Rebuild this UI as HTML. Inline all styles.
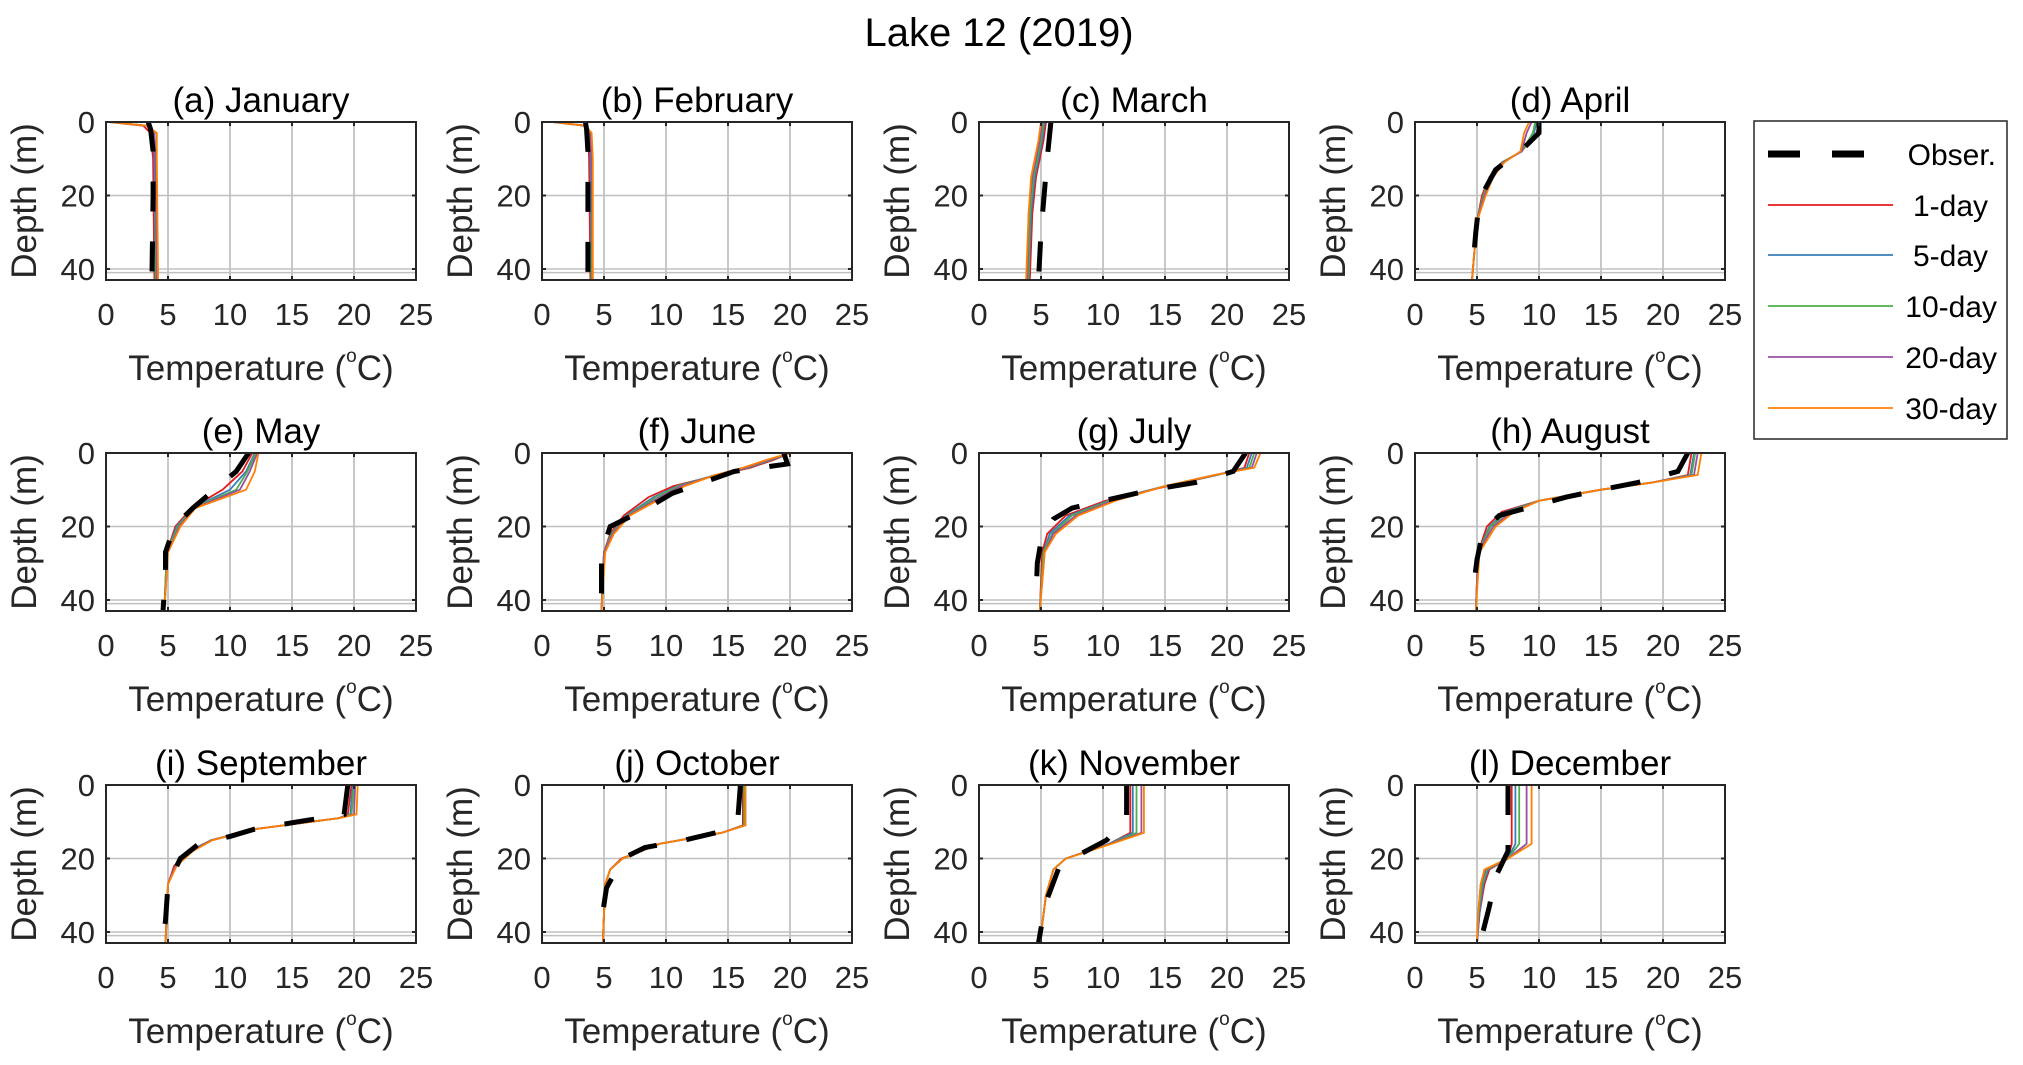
<!DOCTYPE html>
<html><head><meta charset="utf-8"><style>
html,body{margin:0;padding:0;background:#fff;}
svg{display:block;font-family:"Liberation Sans",Arial,sans-serif;}
</style></head><body>
<svg id="chart" width="2023" height="1065" viewBox="0 0 2023 1065">
<rect x="0" y="0" width="2023" height="1065" fill="#fff"/>
<text x="999" y="46" font-size="40" text-anchor="middle" fill="#000">Lake 12 (2019)</text>
<g id="panels"></g>
<g id="legend">
<rect x="1754" y="121" width="253" height="318" fill="#fff" stroke="#262626" stroke-width="1.5"/>
<g><line x1="1768" y1="154" x2="1893" y2="154" stroke="#000" stroke-width="7" stroke-dasharray="32,32"/><text x="1996" y="165" font-size="30" text-anchor="end">Obser.</text></g>
<g><line x1="1768" y1="205" x2="1893" y2="205" stroke="#e41a1c" stroke-width="1.8"/><text x="1988" y="216" font-size="30" text-anchor="end">1-day</text></g>
<g><line x1="1768" y1="255" x2="1893" y2="255" stroke="#377eb8" stroke-width="1.8"/><text x="1988" y="266" font-size="30" text-anchor="end">5-day</text></g>
<g><line x1="1768" y1="306" x2="1893" y2="306" stroke="#4daf4a" stroke-width="1.8"/><text x="1997" y="317" font-size="30" text-anchor="end">10-day</text></g>
<g><line x1="1768" y1="357" x2="1893" y2="357" stroke="#984ea3" stroke-width="1.8"/><text x="1997" y="368" font-size="30" text-anchor="end">20-day</text></g>
<g><line x1="1768" y1="408" x2="1893" y2="408" stroke="#ff7f00" stroke-width="1.8"/><text x="1997" y="419" font-size="30" text-anchor="end">30-day</text></g>
</g>
</svg>
<script>
const panelTitles = ["(a) January","(b) February","(c) March","(d) April","(e) May","(f) June","(g) July","(h) August","(i) September","(j) October","(k) November","(l) December"];
const xTicks = [0,5,10,15,20,25];
const yTicks = [0,20,40];
const seriesNames = ["1-day","5-day","10-day","20-day","30-day"];
const seriesColors = ["#e41a1c","#377eb8","#4daf4a","#984ea3","#ff7f00"];
const modelDepths = [
 [0,1,3,10,43],
 [0,1,3,10,43],
 [0,5,10,15,25,43],
 [0,3,8,11,15,20,27,43],
 [0,5,10,15,20,27,43],
 [0,2,4,6,9,12,17,22,27,43],
 [0,4,6,9,13,17,22,27,43],
 [0,6,8,10,13,16,20,27,43],
 [0,8,9,12,15,18,22,27,43],
 [0,11,13,16,20,23,27,43],
 [0,13,16,20,23,30,43],
 [0,16,20,23,27,35,43]
];
const series1d = [
 [0.2,3.0,3.6,3.8,3.9],[0.8,3.4,3.7,3.8,3.9],[5.4,5.2,4.9,4.6,4.3,4.1],
 [10.0,9.8,8.6,7.0,6.0,5.4,5.0,4.6],[11.8,11.0,9.4,6.9,5.6,4.9,4.7],
 [20.0,18.6,16.8,14.2,10.6,8.6,6.6,5.5,5.0,4.8],[21.8,21.4,19.2,15.2,10.2,7.0,5.5,5.1,4.9],
 [22.3,22.0,19.2,15.0,10.0,7.0,5.8,5.1,4.9],[19.8,19.5,18.8,12.0,8.5,6.7,5.5,5.0,4.8],
 [16.2,16.2,14.5,9.5,6.4,5.5,5.1,4.9],[12.2,12.2,10.5,7.0,6.0,5.4,4.9],[7.8,7.8,7.5,6.0,5.6,5.2,5.0]
];
const series5d = [
 [0.3,3.3,3.8,3.9,4.0],[0.9,3.5,3.8,3.9,4.0],[5.3,5.1,4.8,4.5,4.2,4.0],
 [9.8,9.6,8.6,7.1,6.1,5.5,5.0,4.6],[12.0,11.3,10.0,7.0,5.7,4.9,4.7],
 [20.0,18.4,16.6,14.0,10.9,9.0,6.8,5.6,5.0,4.8],[22.0,21.6,19.2,15.0,10.4,7.3,5.7,5.2,4.9],
 [22.5,22.2,19.2,15.0,10.0,7.3,6.0,5.1,4.9],[19.9,19.7,18.8,12.0,8.5,6.8,5.6,5.0,4.8],
 [16.3,16.3,14.5,9.5,6.5,5.5,5.1,4.9],[12.4,12.4,10.5,7.0,6.0,5.4,4.9],[8.1,8.1,7.5,5.9,5.5,5.2,5.0]
];
const series10d = [
 [0.3,3.3,3.9,4.0,4.0],[0.9,3.5,3.9,4.0,4.0],[5.2,5.0,4.7,4.4,4.1,4.0],
 [9.7,9.5,8.6,7.0,6.1,5.5,5.0,4.6],[12.1,11.4,10.5,7.0,5.8,4.9,4.7],
 [20.0,18.3,16.5,14.0,11.0,9.2,6.9,5.6,5.0,4.8],[22.2,21.8,19.1,15.0,10.5,7.5,5.9,5.2,4.9],
 [22.6,22.3,19.2,15.0,10.0,7.5,6.1,5.1,4.9],[20.0,19.8,18.8,12.0,8.6,6.9,5.6,5.0,4.8],
 [16.3,16.3,14.5,9.5,6.5,5.5,5.1,4.9],[12.7,12.7,10.6,7.0,6.0,5.4,4.9],[8.4,8.4,7.5,5.8,5.4,5.1,5.0]
];
const series20d = [
 [0.3,3.3,3.9,4.0,4.1],[1.0,3.5,3.9,4.0,4.1],[5.1,4.9,4.6,4.3,4.0,3.9],
 [9.4,9.0,8.6,7.1,6.2,5.6,5.0,4.6],[12.2,11.6,10.8,7.1,5.9,5.0,4.7],
 [20.0,18.2,16.4,14.0,11.2,9.5,7.0,5.7,5.0,4.8],[22.4,22.0,19.0,15.0,10.7,7.8,6.0,5.3,4.9],
 [22.8,22.5,19.2,15.0,10.0,7.8,6.3,5.1,4.9],[20.1,20.0,18.8,12.0,8.6,6.9,5.6,5.0,4.8],
 [16.4,16.4,14.5,9.5,6.5,5.5,5.1,4.9],[13.1,13.1,10.6,7.0,6.0,5.4,4.9],[9.0,9.0,7.5,5.7,5.3,5.1,5.0]
];
const series30d = [
 [0.3,3.3,4.1,4.1,4.2],[1.0,3.5,4.0,4.1,4.1],[5.0,4.8,4.5,4.2,4.0,3.8],
 [9.2,8.8,8.5,7.2,6.3,5.7,5.0,4.6],[12.3,12.0,11.3,7.2,6.0,5.0,4.7],
 [20.0,18.0,16.2,14.0,11.5,9.8,7.1,5.8,5.1,4.8],[22.7,22.2,19.0,15.0,11.0,8.0,6.2,5.3,4.9],
 [23.1,22.8,19.2,15.0,10.0,8.0,6.5,5.2,4.9],[20.3,20.2,18.8,12.0,8.6,7.0,5.7,5.0,4.8],
 [16.4,16.4,14.5,9.5,6.5,5.5,5.1,4.9],[13.3,13.3,10.7,7.0,6.0,5.4,4.9],[9.4,9.4,7.5,5.6,5.3,5.1,5.0]
];
const obsDepths = [
 [0,2,8,20,43],[0,2,8,20,43],[0,10,30,43],
 [0,3,7,13,21,30,38],[0,5,15,20,27,33,43],
 [0,3,5,8,11,15,20,27,38,43],[0,5,8,10,13,15,18,24,30,40],
 [0,5,8,10,12,15,17,21,29,37],[0,8,10,12,14,16,20,27,37,43],
 [0,9,13,15,17,20,28,37],[0,9,15,20,22,31,39,43],[0,9,18,25,33,41]
];
const obsTemps = [
 [3.4,3.6,3.8,3.8,3.7],[3.5,3.6,3.7,3.7,3.7],[5.8,5.5,5.0,4.8],
 [10.0,10.0,8.8,6.5,5.2,4.9,4.7],[11.5,10.5,7.0,5.5,4.8,4.8,4.6],
 [19.5,19.8,15.5,13.0,10.5,8.5,5.5,4.8,4.8,4.6],[21.5,20.5,17.5,14.0,10.0,7.5,6.0,5.0,4.7,4.6],
 [22.0,21.2,18.0,15.0,12.2,9.0,6.8,5.5,5.0,4.7],[19.5,19.2,15.5,12.0,10.0,7.5,6.0,5.0,4.8,4.5],
 [16.0,15.8,14.0,11.5,8.3,6.5,5.2,4.8],[11.9,11.9,10.3,7.5,6.5,5.5,5.0,4.8],[7.5,7.5,7.5,6.5,6.0,5.4]
];
const allSeries = [series1d, series5d, series10d, series20d, series30d];

const NS = "http://www.w3.org/2000/svg";
const colLeft = [106,542,979,1415], rowTop = [122,453,785];
const PW = 310, PH = 158, XMAX = 25, YMAX = 43;
function mk(tag, attrs, parent){const e=document.createElementNS(NS,tag);for(const k in attrs)e.setAttribute(k,attrs[k]);parent.appendChild(e);return e;}
const root = document.getElementById("panels");
panelTitles.forEach((title, i) => {
  const L = colLeft[i%4], T = rowTop[Math.floor(i/4)];
  const xs = v => L + v/XMAX*PW;
  const ys = d => T + d/YMAX*PH;
  const g = mk("g", {}, root);
  
  
  xTicks.forEach(t => { if(t>0 && t<XMAX) mk("line",{x1:xs(t),y1:T,x2:xs(t),y2:T+PH,stroke:"#b5b5b5","stroke-width":1.5},g); });
  yTicks.concat([41]).forEach(t => { if(t>0) mk("line",{x1:L,y1:ys(t),x2:L+PW,y2:ys(t),stroke:"#c0c0c0","stroke-width":1.5},g); });
  const depths = modelDepths[i];
  allSeries.forEach((s, k) => {
    const pts = s[i].map((v,j)=>xs(v).toFixed(1)+","+ys(depths[j]).toFixed(1)).join(" ");
    const pl = mk("polyline",{points:pts,fill:"none",stroke:seriesColors[k],"stroke-width":1.8},g);
    
    
  });
  const opts = obsTemps[i].map((v,j)=>xs(v).toFixed(1)+","+ys(obsDepths[i][j]).toFixed(1)).join(" ");
  const ob = mk("polyline",{points:opts,fill:"none",stroke:"#000","stroke-width":5,"stroke-dasharray":"30,30"},g);
  
  
  mk("rect",{x:L,y:T,width:PW,height:PH,fill:"none",stroke:"#262626","stroke-width":2},g);
  xTicks.forEach(t => {
    mk("line",{x1:xs(t),y1:T+PH,x2:xs(t),y2:T+PH-4,stroke:"#262626","stroke-width":2},g);
    mk("line",{x1:xs(t),y1:T,x2:xs(t),y2:T+4,stroke:"#262626","stroke-width":2},g);
    const tx = mk("text",{x:xs(t),y:T+PH+45,"font-size":31,"text-anchor":"middle",fill:"#262626"},g);
    tx.textContent = t;
    
    
  });
  yTicks.forEach(t => {
    mk("line",{x1:L,y1:ys(t),x2:L+4,y2:ys(t),stroke:"#262626","stroke-width":2},g);
    mk("line",{x1:L+PW,y1:ys(t),x2:L+PW-4,y2:ys(t),stroke:"#262626","stroke-width":2},g);
    const ty = mk("text",{x:L-11,y:ys(t)+11,"font-size":31,"text-anchor":"end",fill:"#262626"},g);
    ty.textContent = t;
    
    
  });
  const tt = mk("text",{x:L+PW/2,y:T-10,"font-size":35,"text-anchor":"middle",fill:"#000"},g);
  tt.textContent = title;
  
  
  const yl = mk("text",{x:0,y:0,"font-size":35,"text-anchor":"middle",fill:"#262626",transform:`translate(${L-70},${T+PH/2}) rotate(-90)`},g);
  yl.textContent = "Depth (m)";
  
  
  const xl = mk("text",{x:L+PW/2,y:T+PH+100,"font-size":35,"text-anchor":"middle",fill:"#262626"},g);
  
  
  const a = mk("tspan",{},xl); a.textContent = "Temperature (";
  const b = mk("tspan",{dy:-18,"font-size":19},xl); b.textContent = "o";
  const c = mk("tspan",{dy:18},xl); c.textContent = "C)";
});
</script>
</body></html>
